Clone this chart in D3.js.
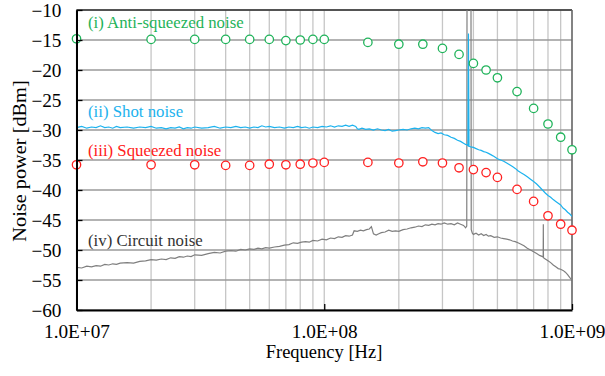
<!DOCTYPE html>
<html>
<head>
<meta charset="utf-8">
<script src="https://cdn.jsdelivr.net/npm/d3@7"></script>
<style>
  body { margin: 0; background: #fff; }
  text { font-family: "Liberation Serif", "Times New Roman", serif; }
</style>
</head>
<body>
<script>
// marker series (frequency in MHz, power in dBm)
var markerFreq = [10, 20, 30, 40, 50, 60, 70, 80, 90, 100, 150, 200, 250, 300, 350, 400, 450, 500, 600, 700, 800, 900, 1000];
var antiSqueezed = [-14.8, -14.9, -14.9, -14.9, -14.9, -14.9, -15.1, -15.0, -14.9, -14.9, -15.4, -15.7, -15.7, -16.4, -17.4, -18.9, -20.0, -21.3, -23.6, -26.4, -29.0, -31.2, -33.3];
var squeezed = [-35.8, -35.8, -35.8, -35.9, -35.9, -35.7, -35.8, -35.7, -35.5, -35.4, -35.4, -35.5, -35.3, -35.5, -36.3, -36.6, -37.1, -37.9, -39.9, -41.9, -44.3, -45.7, -46.7];

// traces [MHz, dBm]
var shotNoise = [[10,-29.6],[10.5,-29.4],[11,-29.7],[11.5,-29.5],[12,-29.6],[12.5,-29.3],[13,-29.6],[13.5,-29.5],[14,-29.7],[14.5,-29.4],[15,-29.6],[16,-29.5],[17,-29.7],[18,-29.5],[19,-29.6],[20,-29.4],[21,-29.7],[22,-29.6],[23,-29.8],[24,-29.6],[25,-29.7],[26,-29.5],[27,-29.8],[28,-29.6],[29,-29.7],[30,-29.5],[32,-29.7],[34,-29.6],[36,-29.4],[38,-29.7],[40,-29.5],[42,-29.6],[44,-29.4],[46,-29.6],[48,-29.5],[50,-29.7],[52,-29.5],[54,-29.6],[56,-29.3],[58,-29.5],[60,-29.4],[63,-29.6],[66,-29.5],[69,-29.7],[72,-29.5],[75,-29.6],[78,-29.4],[81,-29.6],[84,-29.5],[87,-29.7],[90,-29.5],[94,-29.6],[98,-29.4],[102,-29.5],[106,-29.3],[110,-29.5],[114,-29.3],[118,-29.4],[122,-29.2],[126,-29.4],[130,-29.2],[134,-29.4],[136,-29.8],[138,-29.9],[142,-29.7],[147,-29.9],[152,-29.8],[158,-30.0],[164,-29.8],[170,-30.0],[176,-30.1],[182,-29.9],[188,-30.2],[194,-30.1],[200,-30.0],[208,-29.9],[216,-30.0],[224,-29.8],[232,-29.7],[240,-29.8],[248,-29.6],[256,-29.7],[264,-29.6],[272,-30.1],[280,-30.4],[288,-30.6],[296,-30.5],[305,-30.8],[315,-30.9],[325,-31.2],[335,-31.4],[345,-31.7],[355,-31.9],[365,-32.2],[372,-32.4],[378,-32.5],[380,-32.6],[382,-13.9],[384,-32.7],[390,-32.8],[400,-32.9],[410,-33.1],[420,-33.3],[430,-33.4],[440,-33.6],[450,-33.7],[460,-33.9],[470,-34.1],[485,-34.4],[500,-34.8],[515,-35.0],[530,-35.2],[545,-35.5],[560,-35.8],[575,-36.1],[590,-36.4],[605,-36.8],[620,-37.1],[640,-37.4],[660,-37.8],[680,-38.2],[700,-38.6],[720,-39.0],[740,-39.5],[760,-40.0],[780,-40.5],[800,-40.9],[820,-41.2],[840,-41.6],[860,-41.9],[880,-42.2],[900,-42.5],[920,-43.0],[940,-43.3],[960,-43.7],[980,-44.0],[1000,-44.4]];

var circuitNoise = [[10,-52.9],[10.5,-53.0],[11,-52.7],[11.5,-52.8],[12,-52.6],[12.5,-52.7],[13,-52.4],[13.5,-52.5],[14,-52.3],[14.5,-52.4],[15,-52.2],[16,-52.1],[17,-52.2],[18,-51.9],[19,-51.8],[20,-51.6],[21,-51.7],[22,-51.5],[23,-51.6],[24,-51.3],[25,-51.4],[26,-51.1],[27,-51.2],[28,-51.0],[29,-51.1],[30,-50.8],[32,-50.9],[34,-50.6],[36,-50.4],[38,-50.5],[40,-50.2],[42,-50.1],[44,-50.2],[46,-49.9],[48,-50.0],[50,-49.8],[52,-49.9],[54,-49.7],[56,-49.8],[58,-49.6],[60,-49.7],[63,-49.5],[66,-49.4],[69,-49.2],[72,-49.1],[75,-48.8],[78,-48.9],[81,-48.7],[84,-48.6],[87,-48.7],[90,-48.4],[94,-48.5],[98,-48.2],[102,-48.3],[106,-48.0],[110,-48.1],[114,-47.8],[118,-47.9],[122,-47.6],[126,-47.7],[130,-47.5],[132,-46.8],[136,-46.9],[140,-46.7],[144,-46.8],[148,-46.6],[152,-46.5],[155,-46.1],[158,-47.3],[162,-47.5],[166,-47.3],[170,-47.1],[176,-47.0],[182,-46.7],[188,-46.9],[194,-46.8],[200,-46.9],[208,-46.6],[216,-46.5],[224,-46.3],[232,-46.2],[240,-46.0],[248,-46.1],[256,-45.8],[264,-45.9],[272,-45.7],[280,-45.8],[288,-45.6],[296,-45.7],[305,-45.5],[315,-45.7],[325,-45.6],[335,-45.8],[345,-45.5],[355,-45.7],[365,-45.9],[372,-46.3],[376,-46.0],[377,-5],[391,-5],[392,-46.6],[396,-47.2],[400,-47.4],[410,-47.2],[420,-47.5],[430,-47.3],[440,-47.6],[450,-47.4],[460,-47.7],[470,-47.6],[485,-47.9],[500,-47.8],[515,-48.0],[530,-48.1],[545,-48.2],[560,-48.3],[575,-48.5],[590,-48.6],[605,-48.8],[620,-49.0],[640,-49.3],[660,-49.7],[680,-50.0],[700,-50.3],[720,-50.6],[740,-50.9],[760,-51.1],[765,-51.2],[766,-45.7],[767,-51.3],[780,-51.5],[800,-51.8],[820,-52.1],[840,-52.5],[860,-52.8],[880,-53.1],[900,-53.2],[920,-53.4],[940,-53.7],[960,-54.1],[980,-54.6],[1000,-55.0]];

var yTicks = [-60, -55, -50, -45, -40, -35, -30, -25, -20, -15, -10];
var xTickLabels = ["1.0E+07", "1.0E+08", "1.0E+09"];

var width = 605, height = 376;
var mLeft = 76.5, mRight = 572, mTop = 10, mBottom = 310;
var stretch = "scale(1.07,1)";

var svg = d3.select("body").append("svg")
    .attr("width", width)
    .attr("height", height);

var x = d3.scaleLog().domain([1e7, 1e9]).range([mLeft, mRight]);
var y = d3.scaleLinear().domain([-60, -10]).range([mBottom, mTop]);

// grid
svg.append("g")
    .selectAll("line")
    .data(x.ticks())
    .enter().append("line")
    .attr("x1", d => x(d)).attr("x2", d => x(d))
    .attr("y1", mTop).attr("y2", mBottom)
    .attr("stroke", "#c6c6c6")
    .attr("stroke-width", 1.3);

svg.append("g")
    .selectAll("line")
    .data(yTicks)
    .enter().append("line")
    .attr("x1", mLeft).attr("x2", mRight)
    .attr("y1", d => y(d)).attr("y2", d => y(d))
    .attr("stroke", "#9a9a9a")
    .attr("stroke-width", 1.3);

// frame top/right
svg.append("line").attr("x1", mLeft).attr("x2", mRight).attr("y1", mTop).attr("y2", mTop)
    .attr("stroke", "#333").attr("stroke-width", 1.3);
svg.append("line").attr("x1", mRight).attr("x2", mRight).attr("y1", mTop).attr("y2", mBottom)
    .attr("stroke", "#666").attr("stroke-width", 1.5);

svg.append("clipPath").attr("id", "plot")
    .append("rect").attr("x", mLeft).attr("y", mTop)
    .attr("width", mRight - mLeft).attr("height", mBottom - mTop);

var line = d3.line()
    .x(d => x(d[0] * 1e6))
    .y(d => y(d[1]));

svg.append("path")
    .datum(circuitNoise)
    .attr("clip-path", "url(#plot)")
    .attr("d", line)
    .attr("fill", "none")
    .attr("stroke", "#7f7f7f")
    .attr("stroke-width", 1.2);

svg.append("path")
    .datum(shotNoise)
    .attr("clip-path", "url(#plot)")
    .attr("d", line)
    .attr("fill", "none")
    .attr("stroke", "#1cb2ee")
    .attr("stroke-width", 1.2);

function markers(values, color) {
    svg.append("g")
        .selectAll("circle")
        .data(values)
        .enter().append("circle")
        .attr("cx", (d, i) => x(markerFreq[i] * 1e6))
        .attr("cy", d => y(d))
        .attr("r", 4.2)
        .attr("fill", "#fff")
        .attr("stroke", color)
        .attr("stroke-width", 1.3);
}
markers(squeezed, "#ff2020");
markers(antiSqueezed, "#1fb35a");

// axes
var yAxis = svg.append("g")
    .attr("transform", "translate(" + mLeft + ",0)")
    .call(d3.axisLeft(y).tickValues(yTicks).tickSizeInner(-6).tickSizeOuter(0).tickFormat(d3.format("d")));
yAxis.select(".domain").attr("stroke", "#000").attr("stroke-width", 2);
yAxis.selectAll(".tick line").attr("stroke", "#000").attr("stroke-width", 1.3);
yAxis.selectAll("text")
    .attr("x", -15 / 1.07)
    .attr("dy", "0.36em")
    .attr("transform", stretch)
    .attr("font-size", 18)
    .attr("font-family", "Liberation Serif")
    .attr("fill", "#000");

var xAxis = svg.append("g")
    .attr("transform", "translate(0," + mBottom + ")")
    .call(d3.axisBottom(x).tickValues([1e7, 1e8, 1e9]).tickSizeInner(-6).tickSizeOuter(0)
        .tickFormat((d, i) => xTickLabels[i]));
xAxis.select(".domain").attr("stroke", "#000").attr("stroke-width", 2);
xAxis.selectAll(".tick line").attr("stroke", "#000").attr("stroke-width", 1.3);
xAxis.selectAll("text")
    .attr("y", 28.5)
    .attr("dy", 0)
    .attr("transform", stretch)
    .attr("font-size", 18)
    .attr("font-family", "Liberation Serif")
    .attr("fill", "#000");

// titles and series labels
function label(txt, px, py, color, size, anchor, rot) {
    svg.append("text")
        .attr("transform", "translate(" + px + "," + py + ")" + (rot ? " rotate(-90) " + stretch : ""))
        .attr("text-anchor", anchor)
        .attr("font-size", size)
        .attr("fill", color)
        .text(txt);
}
label("Frequency [Hz]", 324, 357.5, "#000", 18.5, "middle");
label("Noise power [dBm]", 26, 161, "#000", 19, "middle", true);

label("(i) Anti-squeezed noise", 88, 28, "#1fb35a", 16.8, "start");
label("(ii) Shot noise", 88, 116.5, "#1cb2ee", 16.8, "start");
label("(iii) Squeezed noise", 88, 156, "#ff2020", 16.8, "start");
label("(iv) Circuit noise", 88, 245.5, "#333", 16.8, "start");
</script>
</body>
</html>
